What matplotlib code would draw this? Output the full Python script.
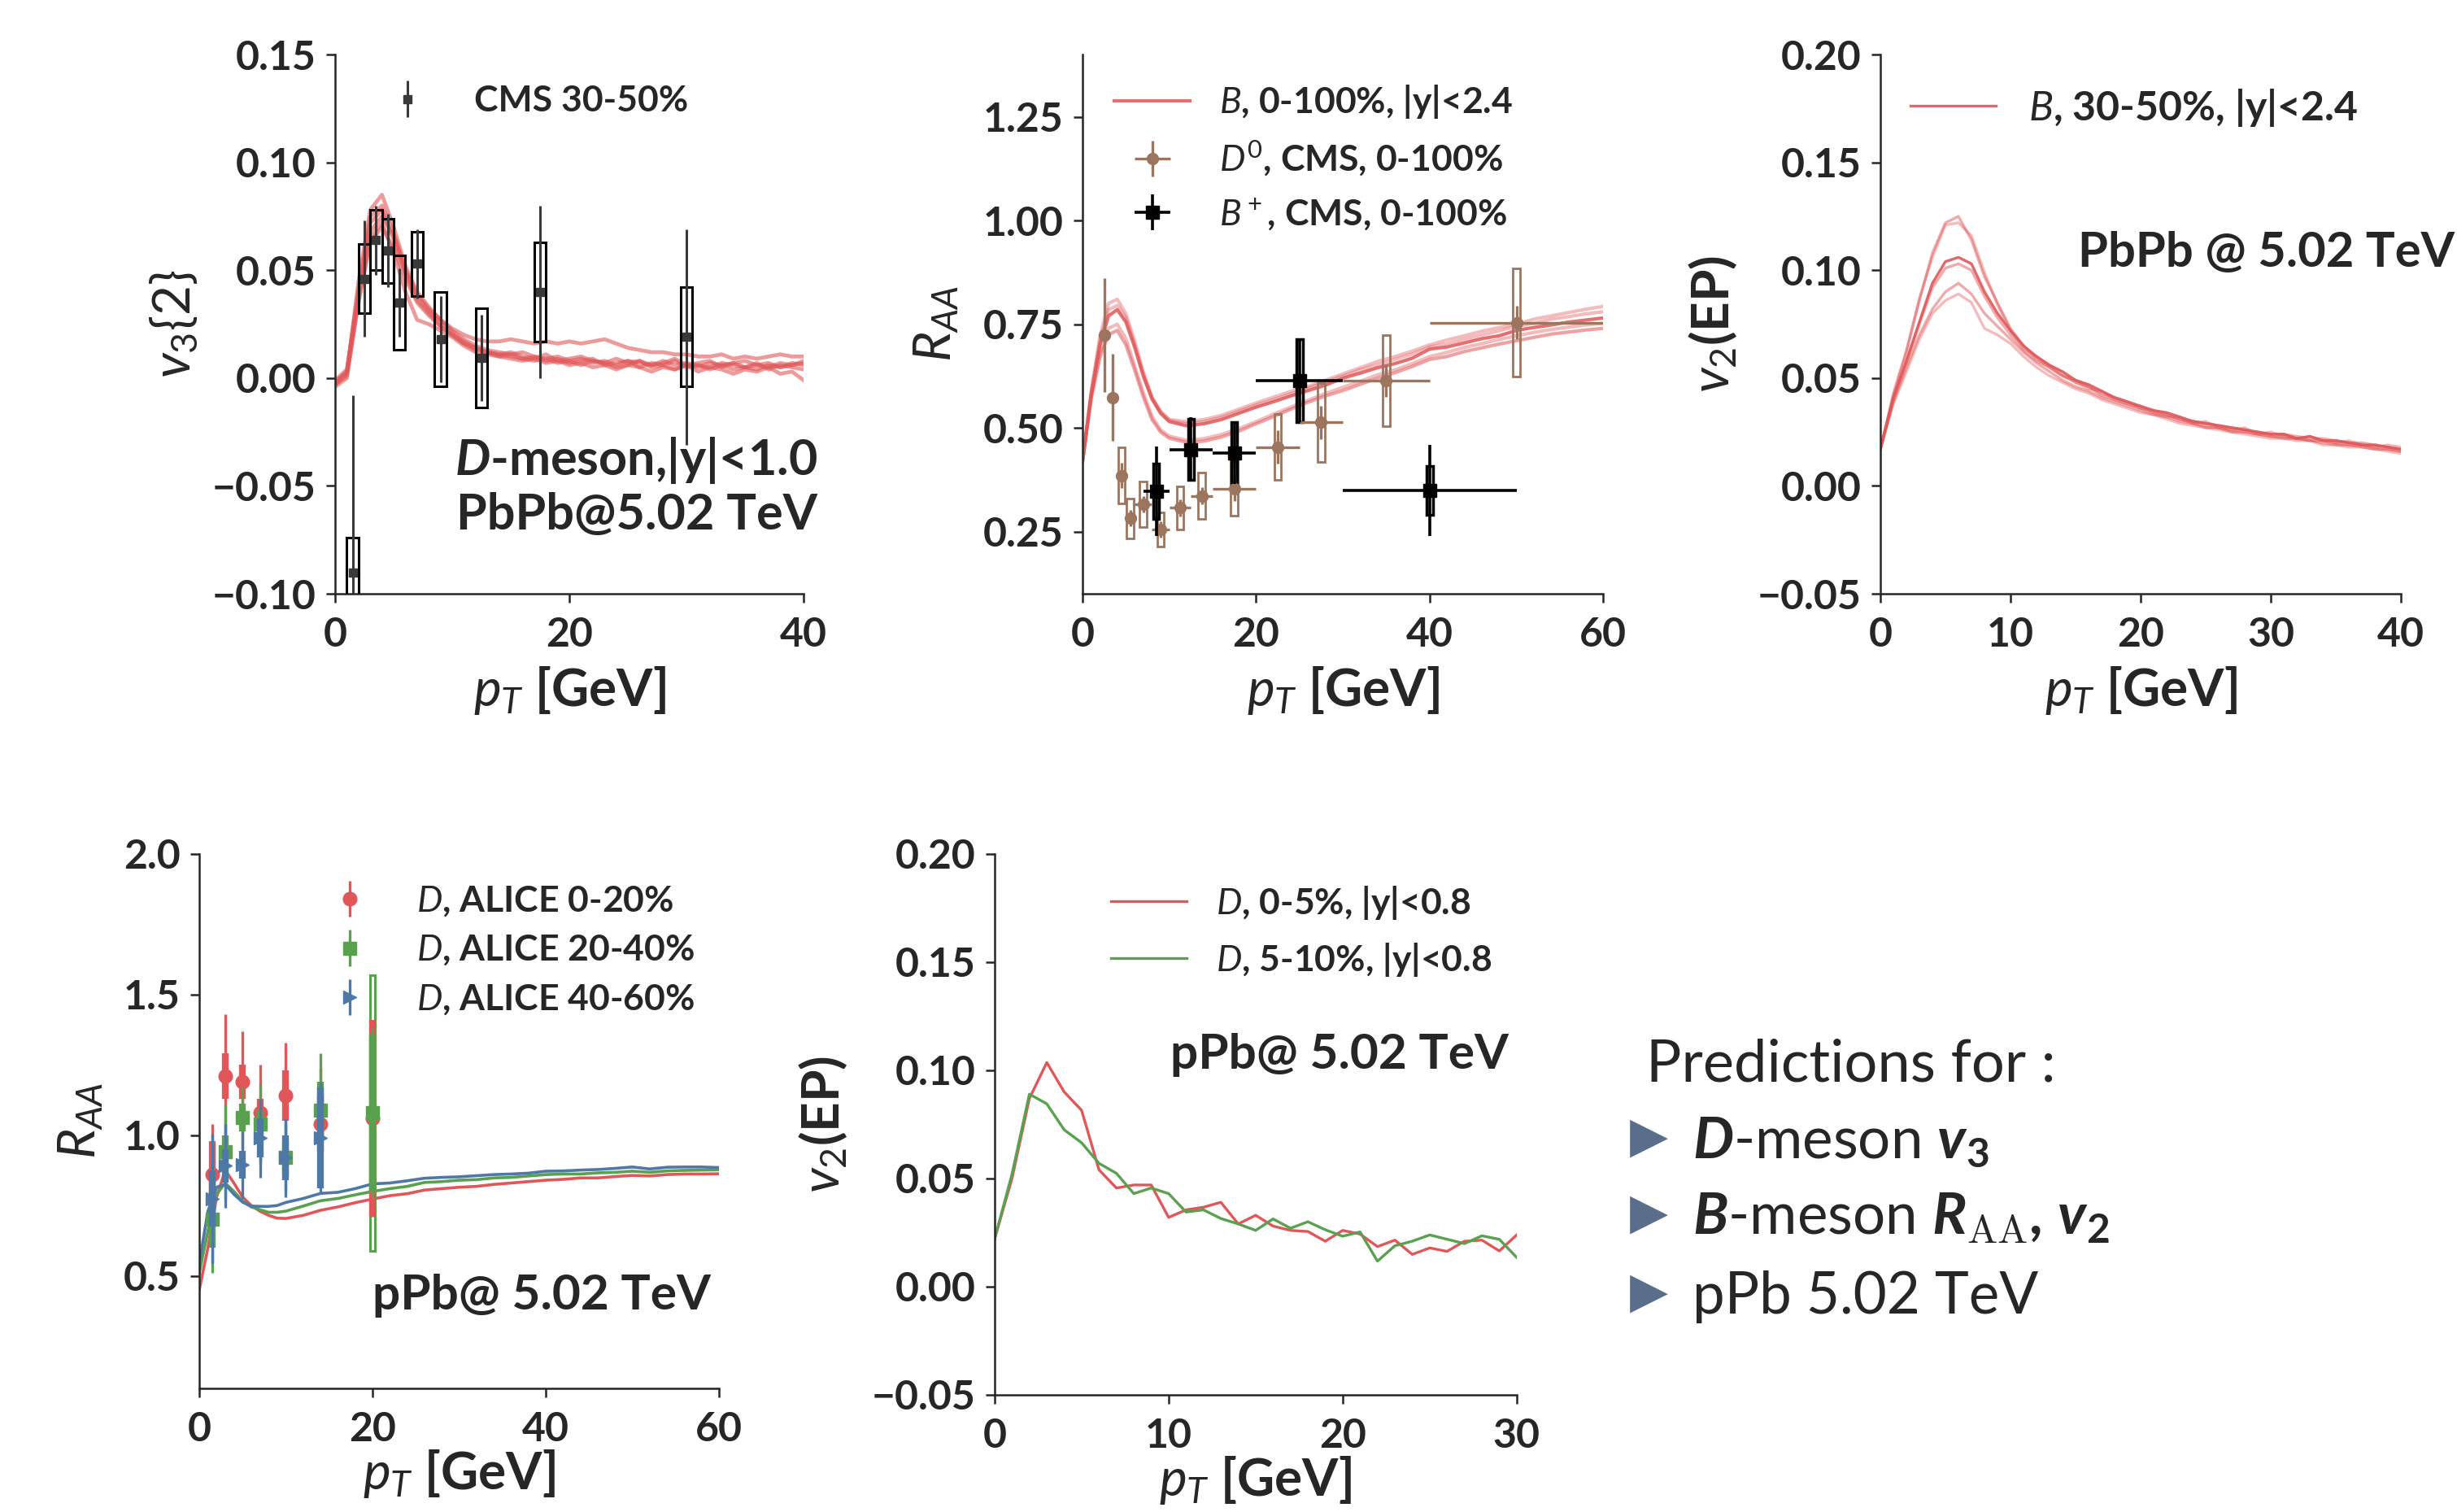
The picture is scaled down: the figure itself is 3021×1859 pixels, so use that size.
########################################################  Pacotes

import numpy as np
import matplotlib
matplotlib.use('Agg')
import matplotlib.pyplot as plt
from matplotlib.patches import Rectangle

########################################################  Estilo

plt.rcParams['font.family'] = ['Lato', 'DejaVu Sans']
plt.rcParams['font.weight'] = 'bold'
plt.rcParams['axes.labelweight'] = 'bold'
plt.rcParams['mathtext.fontset'] = 'custom'
plt.rcParams['mathtext.rm'] = 'Lato:normal'
plt.rcParams['mathtext.it'] = 'Lato:italic:normal'
plt.rcParams['mathtext.bf'] = 'Lato:bold'
plt.rcParams['mathtext.bfit'] = 'Lato:italic:bold'
plt.rcParams['mathtext.sf'] = 'cmr10'
for chave in ['text.color', 'axes.labelcolor', 'xtick.color', 'ytick.color', 'axes.edgecolor']:
    plt.rcParams[chave] = '#262626'

VERMELHO = '#e15759'
VERDE = '#59a14f'
AZUL = '#4e79a7'
MARROM = '#9c755f'

########################################################  Dados

# Painel 1: D-meson v3{2}, PbPb 30-50%
pt_v3 = np.arange(0, 41)
v3_c1 = [-0.003, 0.002, 0.045, 0.078, 0.085, 0.070, 0.052, 0.040, 0.033, 0.027, 0.022, 0.018, 0.015, 0.013, 0.012, 0.011, 0.012, 0.010, 0.009, 0.010, 0.008,
         0.009, 0.007, 0.008, 0.006, 0.008, 0.007, 0.006, 0.008, 0.006, 0.007, 0.006, 0.005, 0.007, 0.006, 0.005, 0.006, 0.007, 0.005, 0.006, 0.007]
v3_c2 = [-0.001, 0.004, 0.040, 0.072, 0.078, 0.064, 0.048, 0.036, 0.030, 0.024, 0.020, 0.016, 0.013, 0.012, 0.011, 0.010, 0.009, 0.010, 0.008, 0.009, 0.007,
         0.008, 0.009, 0.006, 0.007, 0.008, 0.005, 0.007, 0.006, 0.008, 0.005, 0.006, 0.004, 0.006, 0.007, 0.005, 0.004, 0.006, 0.005, 0.007, 0.006]
v3_c3 = [-0.002, 0.003, 0.038, 0.068, 0.075, 0.066, 0.050, 0.039, 0.032, 0.027, 0.023, 0.020, 0.018, 0.017, 0.017, 0.018, 0.017, 0.016, 0.017, 0.016, 0.017,
         0.016, 0.017, 0.018, 0.016, 0.014, 0.013, 0.012, 0.012, 0.011, 0.011, 0.010, 0.010, 0.011, 0.009, 0.010, 0.009, 0.010, 0.011, 0.010, 0.010]
v3_c4 = [-0.003, 0.001, 0.035, 0.065, 0.072, 0.058, 0.040, 0.027, 0.025, 0.022, 0.019, 0.015, 0.012, 0.011, 0.010, 0.009, 0.008, 0.009, 0.007, 0.008, 0.006,
         0.007, 0.005, 0.006, 0.004, 0.006, 0.005, 0.003, 0.005, 0.004, 0.006, 0.003, 0.005, 0.004, 0.002, 0.004, 0.003, 0.005, 0.002, 0.003, -0.001]
v3_c5 = [-0.002, 0.003, 0.042, 0.075, 0.080, 0.067, 0.050, 0.038, 0.031, 0.026, 0.021, 0.017, 0.014, 0.012, 0.011, 0.012, 0.010, 0.009, 0.011, 0.008, 0.009,
         0.010, 0.008, 0.007, 0.009, 0.007, 0.008, 0.006, 0.007, 0.009, 0.006, 0.007, 0.008, 0.005, 0.007, 0.008, 0.006, 0.005, 0.007, 0.006, 0.008]
v3_c6 = [-0.004, 0.000, 0.036, 0.063, 0.070, 0.060, 0.046, 0.035, 0.029, 0.024, 0.020, 0.016, 0.014, 0.012, 0.010, 0.011, 0.009, 0.008, 0.009, 0.007, 0.008,
         0.006, 0.008, 0.007, 0.005, 0.006, 0.008, 0.005, 0.006, 0.004, 0.006, 0.005, 0.007, 0.006, 0.004, 0.005, 0.007, 0.004, 0.006, 0.005, 0.004]
v3_curvas = [v3_c1, v3_c2, v3_c3, v3_c4, v3_c5, v3_c6]

cms_v3_pt = [1.5, 2.5, 3.5, 4.5, 5.5, 7.0, 9.0, 12.5, 17.5, 30.0]
cms_v3 = [-0.090, 0.046, 0.064, 0.059, 0.035, 0.053, 0.018, 0.0095, 0.040, 0.019]
cms_v3_stat = [0.082, 0.027, 0.016, 0.017, 0.016, 0.016, 0.020, 0.020, 0.040, 0.050]
cms_v3_sys = [0.016, 0.016, 0.014, 0.015, 0.022, 0.015, 0.022, 0.023, 0.023, 0.023]

# Painel 2: B-meson RAA 0-100%
pt_raa = [0, 1, 2, 3, 4, 5, 6, 7, 8, 9, 10, 12, 14, 16, 18, 20, 22, 24, 26, 28, 30, 32, 34, 36, 38, 40, 42, 44, 46, 48, 50, 52, 54, 56, 58, 60]
raa_a = [0.42, 0.58, 0.70, 0.77, 0.785, 0.755, 0.695, 0.625, 0.57, 0.535, 0.515, 0.505, 0.51, 0.52, 0.535, 0.55, 0.563, 0.577, 0.59, 0.603, 0.62, 0.632,
         0.645, 0.655, 0.668, 0.69, 0.695, 0.705, 0.715, 0.722, 0.735, 0.742, 0.748, 0.755, 0.76, 0.765]
raa_b = [0.42, 0.59, 0.72, 0.80, 0.81, 0.775, 0.71, 0.635, 0.575, 0.54, 0.52, 0.515, 0.52, 0.53, 0.545, 0.56, 0.574, 0.588, 0.60, 0.615, 0.63, 0.645,
         0.66, 0.672, 0.685, 0.70, 0.712, 0.722, 0.733, 0.742, 0.75, 0.762, 0.77, 0.778, 0.786, 0.793]
raa_c = [0.42, 0.585, 0.71, 0.785, 0.795, 0.765, 0.70, 0.63, 0.572, 0.538, 0.518, 0.51, 0.515, 0.525, 0.54, 0.555, 0.568, 0.582, 0.596, 0.61, 0.625, 0.64,
         0.652, 0.665, 0.678, 0.695, 0.703, 0.714, 0.724, 0.734, 0.745, 0.752, 0.762, 0.768, 0.775, 0.78]
raa_d = [0.42, 0.57, 0.67, 0.725, 0.735, 0.70, 0.64, 0.575, 0.52, 0.49, 0.475, 0.465, 0.468, 0.478, 0.492, 0.51, 0.527, 0.545, 0.562, 0.577, 0.59, 0.605,
         0.62, 0.633, 0.648, 0.665, 0.672, 0.684, 0.693, 0.702, 0.71, 0.718, 0.726, 0.731, 0.736, 0.74]
raa_e = [0.42, 0.575, 0.68, 0.74, 0.75, 0.715, 0.65, 0.585, 0.528, 0.495, 0.48, 0.47, 0.474, 0.484, 0.498, 0.515, 0.533, 0.55, 0.567, 0.583, 0.598, 0.612,
         0.628, 0.64, 0.655, 0.672, 0.682, 0.694, 0.703, 0.713, 0.722, 0.73, 0.737, 0.743, 0.748, 0.752]
raa_curvas = [raa_a, raa_b, raa_c, raa_d, raa_e]
raa_alphas = [0.85, 0.4, 0.4, 0.55, 0.4]

d0_pt = [2.5, 3.5, 4.5, 5.5, 7, 9, 11.25, 13.75, 17.5, 22.5, 27.5, 35, 50]
d0_xerr = [0.5, 0.5, 0.5, 0.5, 1, 1, 1.25, 1.25, 2.5, 2.5, 2.5, 5, 10]
d0_raa = [0.723, 0.573, 0.385, 0.282, 0.316, 0.255, 0.307, 0.336, 0.354, 0.454, 0.513, 0.614, 0.754]
d0_stat = [0.137, 0.105, 0.03, 0.02, 0.02, 0.02, 0.02, 0.02, 0.03, 0.04, 0.04, 0.04, 0.04]
d0_sys = [0.0, 0.0, 0.068, 0.048, 0.055, 0.042, 0.052, 0.056, 0.066, 0.08, 0.095, 0.11, 0.13]

bp_pt = [8.5, 12.5, 17.5, 25, 40]
bp_xerr = [1.5, 2.5, 2.5, 5, 10]
bp_raa = [0.347, 0.448, 0.439, 0.614, 0.349]
bp_stat = [0.108, 0.077, 0.075, 0.10, 0.11]
bp_sys = [0.067, 0.074, 0.075, 0.10, 0.058]

# Painel 3: B-meson v2(EP), 30-50%
pt_v2b = np.arange(0, 41)
v2b_t1 = [0.017, 0.042, 0.062, 0.086, 0.108, 0.122, 0.125, 0.114, 0.097, 0.085, 0.073, 0.065, 0.059, 0.055, 0.051, 0.049, 0.046, 0.043, 0.041, 0.039, 0.036,
          0.035, 0.033, 0.031, 0.030, 0.029, 0.028, 0.027, 0.026, 0.025, 0.024, 0.024, 0.023, 0.022, 0.022, 0.021, 0.020, 0.020, 0.019, 0.018, 0.017]
v2b_t2 = [0.017, 0.043, 0.063, 0.087, 0.106, 0.121, 0.122, 0.116, 0.099, 0.084, 0.072, 0.064, 0.060, 0.056, 0.052, 0.048, 0.045, 0.044, 0.040, 0.038, 0.037,
          0.034, 0.032, 0.032, 0.029, 0.030, 0.027, 0.026, 0.027, 0.024, 0.025, 0.023, 0.022, 0.023, 0.021, 0.020, 0.021, 0.019, 0.018, 0.019, 0.018]
v2b_m1 = [0.017, 0.041, 0.058, 0.076, 0.094, 0.104, 0.106, 0.103, 0.090, 0.080, 0.072, 0.065, 0.060, 0.056, 0.053, 0.049, 0.047, 0.044, 0.041, 0.039, 0.037,
          0.035, 0.034, 0.032, 0.030, 0.029, 0.028, 0.027, 0.026, 0.025, 0.024, 0.024, 0.022, 0.023, 0.021, 0.021, 0.020, 0.019, 0.019, 0.018, 0.017]
v2b_m2 = [0.017, 0.040, 0.057, 0.075, 0.092, 0.101, 0.103, 0.100, 0.088, 0.078, 0.070, 0.063, 0.058, 0.055, 0.051, 0.048, 0.046, 0.042, 0.040, 0.038, 0.036,
          0.034, 0.033, 0.031, 0.029, 0.028, 0.027, 0.026, 0.025, 0.024, 0.023, 0.023, 0.022, 0.021, 0.021, 0.020, 0.019, 0.019, 0.018, 0.017, 0.016]
v2b_l1 = [0.017, 0.039, 0.055, 0.070, 0.082, 0.090, 0.094, 0.089, 0.080, 0.074, 0.068, 0.062, 0.057, 0.053, 0.049, 0.046, 0.044, 0.041, 0.039, 0.037, 0.035,
          0.033, 0.032, 0.030, 0.029, 0.027, 0.027, 0.025, 0.025, 0.024, 0.023, 0.022, 0.022, 0.021, 0.020, 0.019, 0.019, 0.018, 0.017, 0.017, 0.016]
v2b_l2 = [0.017, 0.038, 0.053, 0.068, 0.080, 0.086, 0.089, 0.085, 0.073, 0.070, 0.066, 0.060, 0.055, 0.051, 0.048, 0.045, 0.043, 0.040, 0.038, 0.036, 0.034,
          0.033, 0.031, 0.029, 0.028, 0.027, 0.026, 0.025, 0.024, 0.023, 0.022, 0.022, 0.021, 0.021, 0.019, 0.019, 0.018, 0.018, 0.017, 0.016, 0.015]
v2b_curvas = [v2b_t1, v2b_t2, v2b_m1, v2b_m2, v2b_l1, v2b_l2]
v2b_alphas = [0.5, 0.4, 0.9, 0.5, 0.5, 0.4]

# Painel 4: D-meson RAA pPb
pt_ppb = [0, 1, 2, 3, 4, 5, 6, 7, 8, 9, 10, 12, 14, 16, 18, 20, 22, 24, 26, 28, 30, 32, 34, 36, 38, 40, 42, 44, 46, 48, 50, 52, 54, 56, 58, 60]
raa_ppb_0020 = [0.45, 0.60, 0.78, 0.875, 0.83, 0.78, 0.75, 0.73, 0.715, 0.705, 0.704, 0.715, 0.733, 0.745, 0.76, 0.773, 0.785, 0.792, 0.805, 0.81, 0.815,
                0.818, 0.825, 0.83, 0.835, 0.84, 0.843, 0.848, 0.848, 0.853, 0.857, 0.855, 0.86, 0.862, 0.862, 0.863]
raa_ppb_2040 = [0.51, 0.66, 0.79, 0.83, 0.80, 0.765, 0.745, 0.735, 0.726, 0.726, 0.73, 0.748, 0.767, 0.775, 0.788, 0.80, 0.81, 0.818, 0.832, 0.835, 0.84,
                0.842, 0.848, 0.85, 0.855, 0.86, 0.862, 0.862, 0.866, 0.868, 0.872, 0.868, 0.873, 0.875, 0.876, 0.877]
raa_ppb_4060 = [0.545, 0.73, 0.815, 0.825, 0.79, 0.762, 0.748, 0.747, 0.747, 0.75, 0.761, 0.775, 0.793, 0.797, 0.81, 0.827, 0.83, 0.838, 0.847, 0.85, 0.852,
                0.856, 0.86, 0.862, 0.865, 0.872, 0.873, 0.876, 0.878, 0.882, 0.887, 0.88, 0.886, 0.887, 0.887, 0.885]

alice_pt = [1.5, 3, 5, 7, 10, 14, 20]
alice_0020 = [0.86, 1.21, 1.19, 1.08, 1.14, 1.04, 1.06]
alice_0020_stat = [0.18, 0.22, 0.18, 0.17, 0.19, 0.20, 0.35]
alice_0020_sys = [0.12, 0.08, 0.06, 0.05, 0.09, 0.10, 0.35]
alice_2040 = [0.70, 0.94, 1.063, 1.04, 0.92, 1.09, 1.08]
alice_2040_stat = [0.19, 0.17, 0.11, 0.14, 0.12, 0.20, 0.30]
alice_2040_sys = [0.10, 0.06, 0.05, 0.05, 0.06, 0.10, 0.28]
alice_2040_box = 0.49
alice_pt_4060 = [1.5, 3, 5, 7, 10, 14]
alice_4060 = [0.774, 0.891, 0.895, 0.99, 0.92, 0.99]
alice_4060_stat = [0.23, 0.15, 0.12, 0.14, 0.14, 0.20]
alice_4060_sys = [0.10, 0.06, 0.05, 0.07, 0.08, 0.18]

# Painel 5: D-meson v2(EP) pPb
pt_v2d = np.arange(0, 31)
v2d_0005 = [0.022, 0.050, 0.087, 0.1036, 0.090, 0.0815, 0.054, 0.0456, 0.047, 0.047, 0.032, 0.0355, 0.0367, 0.039, 0.029, 0.033,
            0.028, 0.026, 0.0255, 0.021, 0.026, 0.0243, 0.0185, 0.0215, 0.0149, 0.0179, 0.0163, 0.021, 0.0215, 0.0165, 0.0239]
v2d_0510 = [0.022, 0.052, 0.089, 0.0845, 0.0725, 0.0665, 0.057, 0.0524, 0.043, 0.0456, 0.043, 0.0345, 0.0355, 0.0315, 0.029, 0.026,
            0.0313, 0.027, 0.030, 0.0263, 0.0233, 0.0253, 0.0118, 0.0189, 0.021, 0.0239, 0.0219, 0.0199, 0.0235, 0.0219, 0.0135]

########################################################  Funções

def estilo(ax, xlim, ylim, xticks, yticks, ylabel, ylabel_x, xpad=10):
    ax.spines[['top', 'right']].set_visible(False)
    ax.spines[['left', 'bottom']].set_linewidth(1.8)
    ax.set_xlim(xlim)
    ax.set_ylim(ylim)
    ax.set_xticks(xticks)
    ax.set_yticks(yticks)
    ax.tick_params(direction='out', length=8, width=1.8, labelsize=36, pad=9)
    ax.tick_params(axis='x', pad=12)
    ax.set_xlabel(r'$p_T$ [GeV]', fontsize=46, labelpad=xpad)
    ax.set_ylabel(ylabel, fontsize=46)
    ax.yaxis.set_label_coords(ylabel_x, 0.5)


def legenda(ax, x, y, espaco=0.4, tamanho=32):
    ax.legend(loc='upper left', bbox_to_anchor=(x, y), frameon=False, fontsize=tamanho,
              handlelength=2.1, handletextpad=0.8, labelspacing=espaco,
              borderpad=0, borderaxespad=0)


def caixas(ax, xs, ys, sys, largura, cor, lw=2):
    for x, y, s in zip(xs, ys, sys):
        if s > 0:
            ax.add_patch(Rectangle((x - largura / 2, y - s), largura, 2 * s, fill=False,
                                   edgecolor=cor, lw=lw, zorder=3))

########################################################  Figura

fig = plt.figure(figsize=(30.21, 18.59), dpi=100)

# Painel 1
ax1 = fig.add_axes([0.1364, 0.6073, 0.1907, 0.3566])
for curva in v3_curvas:
    ax1.plot(pt_v3, curva, color=VERMELHO, lw=3.4, alpha=0.6, zorder=1)
caixas(ax1, cms_v3_pt, cms_v3, cms_v3_sys, 1.0, 'black', lw=2.2)
ax1.errorbar(cms_v3_pt, cms_v3, yerr=cms_v3_stat, fmt='s', color='#3a3a3a', ms=7,
             elinewidth=2.2, capsize=0, zorder=4, label='CMS 30-50%')
estilo(ax1, (0, 40), (-0.10, 0.15), [0, 20, 40], [-0.10, -0.05, 0.0, 0.05, 0.10, 0.15],
       r'$v_3\{2\}$', -0.288)
legenda(ax1, 0.073, 0.944)
ax1.text(1.03, 0.221, r'$\mathbfit{D}$-meson,|y|<1.0', transform=ax1.transAxes, fontsize=44,
         ha='right', va='baseline')
ax1.text(1.03, 0.119, 'PbPb@5.02 TeV', transform=ax1.transAxes, fontsize=44,
         ha='right', va='baseline')

# Painel 2
ax2 = fig.add_axes([0.4406, 0.6073, 0.2119, 0.3566])
for i, (curva, a) in enumerate(zip(raa_curvas, raa_alphas)):
    ax2.plot(pt_raa, curva, color=VERMELHO, lw=3.0, alpha=a, zorder=1,
             label=r'$B$, 0-100%, |y|<2.4' if i == 0 else None)
caixas(ax2, d0_pt, d0_raa, d0_sys, 0.8, MARROM)
ax2.errorbar(d0_pt, d0_raa, xerr=d0_xerr, yerr=d0_stat, fmt='o', color=MARROM, ms=10,
             elinewidth=2.4, capsize=0, zorder=4, label=r'$D^0$, CMS, 0-100%')
caixas(ax2, bp_pt, bp_raa, bp_sys, 0.7, 'black', lw=2.5)
ax2.errorbar(bp_pt, bp_raa, xerr=bp_xerr, yerr=bp_stat, fmt='s', color='black', ms=11,
             elinewidth=2.6, capsize=0, zorder=5, label=r'$B^+$, CMS, 0-100%')
estilo(ax2, (0, 60), (0.1, 1.4), [0, 20, 40, 60], [0.25, 0.50, 0.75, 1.00, 1.25],
       r'$R_{AA}$', -0.235)
legenda(ax2, 0.061, 0.947, espaco=0.5)

# Painel 3
ax3 = fig.add_axes([0.7653, 0.6073, 0.2119, 0.3566])
for i, (curva, a) in enumerate(zip(v2b_curvas, v2b_alphas)):
    ax3.plot(pt_v2b, curva, color=VERMELHO, lw=2.4, alpha=a,
             label=r'$B$, 30-50%, |y|<2.4' if i == 2 else None)
estilo(ax3, (0, 40), (-0.05, 0.20), [0, 10, 20, 30, 40], [-0.05, 0.0, 0.05, 0.10, 0.15, 0.20],
       r'$v_2$(EP)', -0.271)
legenda(ax3, 0.058, 0.94, tamanho=36)
ax3.text(0.38, 0.607, 'PbPb @ 5.02 TeV', transform=ax3.transAxes, fontsize=43, va='baseline')

# Painel 4
ax4 = fig.add_axes([0.0811, 0.0818, 0.2115, 0.3534])
ax4.plot(pt_ppb, raa_ppb_0020, color=VERMELHO, lw=2.6, zorder=2)
ax4.plot(pt_ppb, raa_ppb_2040, color=VERDE, lw=2.6, zorder=2)
ax4.plot(pt_ppb, raa_ppb_4060, color=AZUL, lw=2.6, zorder=2)
ax4.add_patch(Rectangle((alice_pt[-1] - 0.25, alice_2040[-1] - alice_2040_box), 0.5, 2 * alice_2040_box,
                        fill=False, edgecolor=VERDE, lw=2.2, zorder=3))
series = [(alice_pt, alice_0020, alice_0020_stat, alice_0020_sys, VERMELHO, 'o', 12, r'$D$, ALICE 0-20%'),
          (alice_pt, alice_2040, alice_2040_stat, alice_2040_sys, VERDE, 's', 12, r'$D$, ALICE 20-40%'),
          (alice_pt_4060, alice_4060, alice_4060_stat, alice_4060_sys, AZUL, '>', 12, r'$D$, ALICE 40-60%')]
for k, (xs, ys, st, sy, cor, mk, ms, rot) in enumerate(series):
    ax4.errorbar(xs, ys, yerr=sy, fmt='none', ecolor=cor, elinewidth=6, capsize=0, zorder=4 + k)
    ax4.errorbar(xs, ys, yerr=st, fmt=mk, color=cor, ms=ms, elinewidth=2.4, capsize=0,
                 zorder=4 + k, label=rot)
estilo(ax4, (0, 60), (0.1, 2.0), [0, 20, 40, 60], [0.5, 1.0, 1.5, 2.0], r'$R_{AA}$', -0.181,
       xpad=0)
legenda(ax4, 0.216, 0.943, espaco=0.42)
ax4.text(0.334, 0.147, 'pPb@ 5.02 TeV', transform=ax4.transAxes, fontsize=43.5, va='baseline')

# Painel 5
ax5 = fig.add_axes([0.4048, 0.0775, 0.2125, 0.3577])
ax5.plot(pt_v2d, v2d_0005, color=VERMELHO, lw=2.4, label=r'$D$, 0-5%, |y|<0.8')
ax5.plot(pt_v2d, v2d_0510, color=VERDE, lw=2.4, label=r'$D$, 5-10%, |y|<0.8')
estilo(ax5, (0, 30), (-0.05, 0.20), [0, 10, 20, 30], [-0.05, 0.0, 0.05, 0.10, 0.15, 0.20],
       r'$v_2$(EP)', -0.279, xpad=0)
legenda(ax5, 0.223, 0.945, espaco=0.55)
ax5.text(0.336, 0.603, 'pPb@ 5.02 TeV', transform=ax5.transAxes, fontsize=43.5, va='baseline')

# Texto com as previsões
fig.text(0.670, 0.2846, 'Predictions for :', fontsize=52, fontweight='normal')
itens = [r'$\mathbfit{D}$-meson $\mathbfit{v}_{\mathbf{3}}$',
         r'$\mathbfit{B}$-meson $\mathbfit{R}_{\mathsf{AA}}\mathbf{,}\ \mathbfit{v}_{\mathbf{2}}$',
         'pPb 5.02 TeV']
base_y = [0.234, 0.1834, 0.1313]
marca_y = [0.2474, 0.1969, 0.1447]
for txt, yb, ym in zip(itens, base_y, marca_y):
    fig.text(0.671, ym, '\u25B6', family='DejaVu Sans', color='#5a6e8c', fontsize=44,
             ha='center', va='center', fontweight='normal')
    fig.text(0.689, yb, txt, fontsize=51, fontweight='normal', va='baseline')

fig.savefig('out.png', dpi=100)
